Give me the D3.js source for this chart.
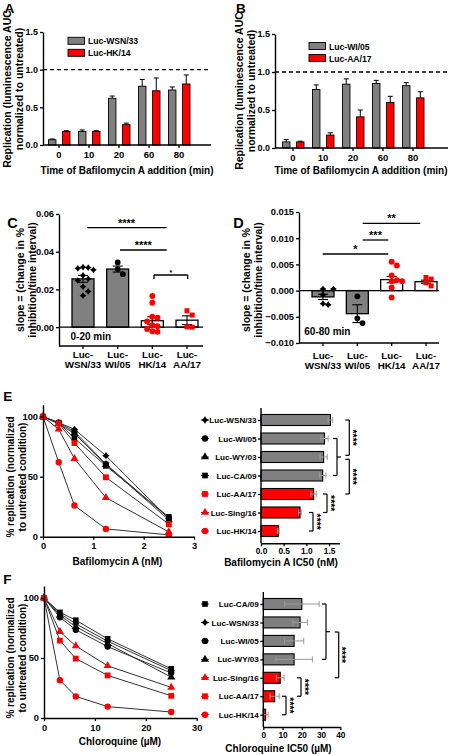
<!DOCTYPE html>
<html><head><meta charset="utf-8">
<script src="https://cdn.jsdelivr.net/npm/d3@7"></script>
<style>
body{margin:0;background:#fff}
text{font-family:Arial,"Liberation Sans",sans-serif;font-weight:bold;fill:#000}
</style>
</head><body><svg id="c" width="452" height="755" xmlns="http://www.w3.org/2000/svg"></svg>
<script>
// ---------------- DATA ----------------
const timeCats = ["0","10","20","60","80"];
const aWSN = [0.07,0.18,0.62,0.78,0.73];
const aWSNerr = [0.01,0.02,0.03,0.09,0.04];
const aHK = [0.18,0.18,0.27,0.72,0.81];
const aHKerr = [0.01,0.01,0.02,0.17,0.12];
const bWI = [0.08,0.77,0.84,0.85,0.82];
const bWIerr = [0.03,0.06,0.07,0.04,0.04];
const bAA = [0.08,0.17,0.41,0.60,0.66];
const bAAerr = [0.01,0.03,0.09,0.08,0.08];

const slopeCats = ["WSN/33","WI/05","HK/14","AA/17"];
const cMeans = [0.0256,0.0308,0.0034,0.0037];
const cErr = [0.0018,0.0016,0.0021,0.0023];
const cPts = [
  [0.0318,0.0316,0.0312,0.0304,0.0274,0.0256,0.0247,0.0215,0.0190,0.0167],
  [0.0343,0.0308,0.0281],
  [0.0165,0.0130,0.0055,0.0050,0.0030,0.0010,0.0005,-0.0010,-0.0022,-0.0025],
  [0.0087,0.0064,0.0002,0.0000]
];
const dMeans = [-0.0012,-0.0044,0.0021,0.0017];
const dErr = [0.0005,0.0017,0.0006,0.0003];
const dPts = [
  [0.0003,0.0003,-0.0008,-0.0025,-0.0027],
  [-0.0011,-0.0053,-0.0062],
  [0.0055,0.0048,0.0029,0.0020,0.0018,0.0018,0.0006,-0.0013],
  [0.0025,0.0022,0.0015,0.0009]
];

const bafDoses = [0,0.3125,0.625,1.25,2.5];
const eStrains = ["Luc-WSN/33","Luc-WI/05","Luc-WY/03","Luc-CA/09","Luc-AA/17","Luc-Sing/16","Luc-HK/14"];
const eCurves = [
  [100,95,89.5,67.5,15],
  [100,95,87.5,60.5,15.5],
  [100,94,86,60,14],
  [100,95,82,59,16.5],
  [100,94.5,78,49.5,10.5],
  [100,89.5,65,32.5,4],
  [100,62,26,6.5,1.5]
];
const eIC50 = [1.53,1.40,1.38,1.36,1.16,0.86,0.38];
const eIC50err = [0.05,0.08,0.08,0.07,0.06,0.03,0.02];

const cqDoses = [0,3.125,6.25,12.5,25];
const fStrains = ["Luc-CA/09","Luc-WSN/33","Luc-WI/05","Luc-WY/03","Luc-Sing/16","Luc-AA/17","Luc-HK/14"];
const fCurves = [
  [100,88,81.5,66,41],
  [100,87,78.5,64,39.5],
  [100,84,73.5,59.5,37.5],
  [100,85.5,76,62,34],
  [100,72,60,43.5,25.5],
  [100,64.5,49.5,35.5,18.5],
  [100,31.5,18,9.5,5]
];
const fIC50 = [20,19.1,16,16,8.8,5.9,1.2];
const fIC50err = [9,3.8,5,9.5,2,2.4,1.3];

// ---------------- HELPERS ----------------
const svg = d3.select("#c");
const GRAY = "#808080", RED = "#ff0000";
const star4 = {draw(ctx, size){const r=Math.sqrt(size)*0.72,k=r*0.42;
  ctx.moveTo(0,-r);ctx.lineTo(k,-k);ctx.lineTo(r,0);ctx.lineTo(k,k);ctx.lineTo(0,r);
  ctx.lineTo(-k,k);ctx.lineTo(-r,0);ctx.lineTo(-k,-k);ctx.closePath();}};
const shapeOf = {"Luc-WSN/33":star4,"Luc-WI/05":d3.symbolCircle,"Luc-WY/03":d3.symbolTriangle,
  "Luc-CA/09":d3.symbolSquare,"Luc-AA/17":d3.symbolSquare,"Luc-Sing/16":d3.symbolTriangle,"Luc-HK/14":d3.symbolCircle};
const colorOf = s => ["Luc-AA/17","Luc-Sing/16","Luc-HK/14"].includes(s) ? RED : "#000";
const sizeOf = {"Luc-WSN/33":26,"Luc-WI/05":32,"Luc-WY/03":28,"Luc-CA/09":32,"Luc-AA/17":34,"Luc-Sing/16":28,"Luc-HK/14":32};

function txt(x,y,s,size,anchor="start",g=svg){
  return g.append("text").attr("x",x).attr("y",y).attr("font-size",size).attr("text-anchor",anchor).text(s);
}
function vtitle(cx,cy,lines,size,gap){
  lines.forEach((l,i)=>{
    svg.append("text").attr("transform",`translate(${cx+i*gap},${cy}) rotate(-90)`)
      .attr("text-anchor","middle").attr("dominant-baseline","central").attr("font-size",size).text(l);
  });
}
function line(x1,y1,x2,y2,w=1.3,col="#000",dash=null){
  const l=svg.append("line").attr("x1",x1).attr("y1",y1).attr("x2",x2).attr("y2",y2)
    .attr("stroke",col).attr("stroke-width",w);
  if(dash) l.attr("stroke-dasharray",dash);
  return l;
}
function styleAxis(g,fs){
  g.selectAll("path.domain").attr("stroke","#000").attr("stroke-width",1.4);
  g.selectAll(".tick line").attr("stroke","#000").attr("stroke-width",1.3);
  g.selectAll(".tick text").attr("font-size",fs).attr("font-family","Arial,'Liberation Sans',sans-serif")
    .attr("font-weight","bold").attr("fill","#000");
}
function swarm(vals,y,cx,minD,step){
  const placed=[];const out=new Array(vals.length);
  const order=vals.map((v,i)=>i).sort((a,b)=>vals[b]-vals[a]);
  order.forEach(i=>{
    const py=y(vals[i]);
    for(let k=0;k<30;k++){
      const off=(k%2?1:-1)*Math.ceil(k/2)*step;
      const px=cx+off;
      if(placed.every(p=>Math.hypot(p[0]-px,p[1]-py)>=minD)){placed.push([px,py]);out[i]=[px,py];break;}
    }
  });
  return out;
}

// ---------------- PANEL A / B ----------------
function groupedPanel(o){
  const y=d3.scaleLinear().domain([0,1.5]).range([o.y0,o.y1]);
  const x=d3.scaleBand().domain(timeCats).range([o.xs,o.xs+150]);
  const sub=d3.scaleBand().domain([0,1]).range([-10.5,11]).paddingInner(0.47);
  const g=svg.append("g");
  [[o.s1,o.e1,GRAY],[o.s2,o.e2,RED]].forEach(([vals,errs,col],j)=>{
    timeCats.forEach((c,i)=>{
      const cx=x(c)+x.bandwidth()/2+sub(j);
      const mid=cx+sub.bandwidth()/2;
      line(mid,y(vals[i]),mid,y(vals[i]+errs[i]),1,"#000");
      line(mid-2.5,y(vals[i]+errs[i]),mid+2.5,y(vals[i]+errs[i]),1,"#000");
      g.append("rect").attr("x",cx).attr("y",y(vals[i])).attr("width",sub.bandwidth())
        .attr("height",y(0)-y(vals[i])).attr("fill",col).attr("stroke","#000").attr("stroke-width",0.9);
    });
  });
  line(o.ax,y(1),o.xend,y(1),1.3,"#000","4,3");
  const ya=svg.append("g").attr("transform",`translate(${o.ax},0)`)
    .call(d3.axisLeft(y).tickValues([0,0.5,1,1.5]).tickFormat(d3.format(".1f")).tickSize(3).tickPadding(2).tickSizeOuter(0));
  styleAxis(ya,9);
  const xa=svg.append("g").attr("transform",`translate(0,${y(0)})`)
    .call(d3.axisBottom(x).tickSize(3).tickSizeOuter(0));
  xa.select("path.domain").remove();
  styleAxis(xa,9.5);
  line(o.ax,y(0),o.xend,y(0),1.4);
  // legend
  [[o.n1,GRAY],[o.n2,RED]].forEach(([n,col],j)=>{
    svg.append("rect").attr("x",o.lx).attr("y",o.ly+j*12).attr("width",16.5).attr("height",7)
      .attr("fill",col).attr("stroke","#000").attr("stroke-width",0.9);
    txt(o.lx+20,o.ly+j*12+7,n,8.6);
  });
  txt(o.tx,o.ty,"Time of Bafilomycin A addition (min)",10,"middle");
  vtitle(o.vx,o.vy,["Replication (luminescence AUC","normalized to untreated)"],10.5,11.5);
  txt(o.px,12.7,o.label,13.5);
}
groupedPanel({y0:145,y1:32,xs:44,ax:43,xend:211,s1:aWSN,e1:aWSNerr,s2:aHK,e2:aHKerr,
  n1:"Luc-WSN/33",n2:"Luc-HK/14",lx:68,ly:37.3,tx:127,ty:173.5,vx:7,vy:89,px:4.5,label:"A"});
groupedPanel({y0:148,y1:34,xs:278,ax:275,xend:448,s1:bWI,e1:bWIerr,s2:bAA,e2:bAAerr,
  n1:"Luc-WI/05",n2:"Luc-AA/17",lx:309,ly:42.5,tx:361,ty:174,vx:239,vy:91,px:236,label:"B"});

// ---------------- PANEL C / D ----------------
const markC = [star4,d3.symbolCircle,d3.symbolCircle,d3.symbolSquare];
const colC = ["#000","#000",RED,RED];
const sizeC = [22,26,27,25];
function slopePanel(o){
  const y=d3.scaleLinear().domain(o.dom).range([o.yb,o.yt]);
  const x=d3.scalePoint().domain(slopeCats).range([o.c0,o.c1]);
  const bw=22;
  slopeCats.forEach((c,i)=>{
    const cx=x(c),m=o.means[i];
    svg.append("rect").attr("x",cx-bw/2).attr("y",Math.min(y(m),y(0))).attr("width",bw)
      .attr("height",Math.abs(y(m)-y(0))).attr("fill",i<2?GRAY:"#fff").attr("stroke","#000").attr("stroke-width",1.3);
  });
  line(o.ax,y(0),o.xend,y(0),1.4);
  slopeCats.forEach((c,i)=>{
    const cx=x(c),m=o.means[i],e=o.errs[i];
    line(cx,y(m-e),cx,y(m+e),1.1);
    line(cx-5,y(m+e),cx+5,y(m+e),1.1);
    line(cx-5,y(m-e),cx+5,y(m-e),1.1);
    const pos=swarm(o.pts[i],y,cx,5.2,5.2);
    svg.selectAll(null).data(pos).enter().append("path")
      .attr("transform",p=>`translate(${p[0]},${p[1]})`)
      .attr("d",d3.symbol().type(markC[i]).size(sizeC[i])).attr("fill",colC[i]);
  });
  const ya=svg.append("g").attr("transform",`translate(${o.ax},0)`)
    .call(d3.axisLeft(y).tickValues(o.ticks).tickFormat(d3.format(o.fmt)).tickSize(3).tickPadding(2).tickSizeOuter(0));
  styleAxis(ya,9.3);
  line(o.ax,o.yb,o.xend,o.yb,1.4);
  slopeCats.forEach(c=>{
    line(x(c),o.yb,x(c),o.yb+3,1.3);
    txt(x(c),o.lb1,"Luc-",9.8,"middle");
    txt(x(c),o.lb1+10,c,9.8,"middle");
  });
  txt(o.px,228.3,o.label,14.5);
  txt(o.notex,o.notey,o.note,10);
  vtitle(o.vx,o.vy,["slope = (change in %","inhibition/time interval)"],10.5,12.3);
  o.sig.forEach(s=>{
    line(s.x1,s.y,s.x2,s.y,1.3);
    if(s.br){line(s.x1,s.y,s.x1,s.y+4,1.3);line(s.x2,s.y,s.x2,s.y+4,1.3);}
    txt((s.x1+s.x2)/2+(s.dx||0),s.y+(s.ty||0),s.t,s.fs||11,"middle");
  });
}
slopePanel({dom:[-0.01,0.06],yb:346,yt:214,c0:83,c1:187,ax:59,xend:203,means:cMeans,errs:cErr,pts:cPts,
  ticks:[0,0.02,0.04,0.06],fmt:".2f",lb1:358.3,px:7.3,label:"C",note:"0-20 min",notex:70.5,notey:340,
  vx:19.5,vy:280,
  sig:[{x1:87.3,x2:166.7,y:227.7,t:"****",dx:-0.5,ty:-0.5},{x1:120,x2:166.7,y:250,t:"****",ty:-1.5},
       {x1:154,x2:187.7,y:275,t:"*",br:true,fs:7,ty:-0.5}]});
slopePanel({dom:[-0.010,0.015],yb:343,yt:212,c0:323,c1:426,ax:299,xend:439,means:dMeans,errs:dErr,pts:dPts,
  ticks:[-0.010,-0.005,0,0.005,0.010,0.015],fmt:".3f",lb1:359,px:233.3,label:"D",note:"60-80 min",notex:304.3,notey:335,
  vx:246,vy:280,
  sig:[{x1:362.7,x2:420.3,y:223.3,t:"**",ty:-1},{x1:362.7,x2:388.3,y:240,t:"***",ty:-1.5},
       {x1:322.7,x2:388.3,y:254,t:"*",ty:-1.5}]});

// ---------------- PANEL E / F (curves) ----------------
function curvePanel(o){
  const x=d3.scaleLinear().domain(o.xdom).range([o.x0,o.x1]);
  const y=d3.scaleLinear().domain([0,110]).range([o.y0,o.y0-132]);
  const ln=d3.line().x((d,i)=>x(o.doses[i])).y(d=>y(d));
  o.curves.forEach(c=>svg.append("path").attr("d",ln(c)).attr("fill","none").attr("stroke","#333").attr("stroke-width",1));
  o.curves.forEach((c,k)=>{
    const s=o.strains[k];
    svg.selectAll(null).data(c).enter().append("path")
      .attr("transform",(d,i)=>`translate(${x(o.doses[i])},${y(d)})`)
      .attr("d",d3.symbol().type(shapeOf[s]).size(sizeOf[s])).attr("fill",colorOf(s));
  });
  const ya=svg.append("g").attr("transform",`translate(${o.x0},0)`)
    .call(d3.axisLeft(y).tickValues([0,50,100]).tickSize(3).tickPadding(2).tickSizeOuter(0));
  styleAxis(ya,9.3);
  const xa=svg.append("g").attr("transform",`translate(0,${o.y0})`)
    .call(d3.axisBottom(x).tickValues(o.xticks).tickFormat(d3.format("d")).tickSize(3).tickSizeOuter(0));
  styleAxis(xa,9.3);
  txt(o.tcx,o.tby,o.title,10,"middle");
  vtitle(10,o.vy,["% replication (normalized","to untreated condition)"],10,12.7);
  txt(3.3,o.lby,o.label,13.5);
}
curvePanel({xdom:[0,3],x0:43,x1:194,y0:536.7,doses:bafDoses,curves:eCurves,strains:eStrains,xticks:[0,1,2,3],
  tcx:117.5,tby:565,title:"Bafilomycin A (nM)",vy:477,lby:400.7,label:"E"});
curvePanel({xdom:[0,30],x0:44,x1:196.7,y0:718,doses:cqDoses,curves:fCurves,strains:fStrains,xticks:[0,10,20,30],
  tcx:120,tby:745,title:"Chloroquine (\u00b5M)",vy:658,lby:584.3,label:"F"});

// ---------------- PANEL E / F (IC50 bars) ----------------
function icPanel(o){
  const x=d3.scaleLinear().domain(o.xdom).range([o.ax,o.xend]);
  const y=d3.scalePoint().domain(o.strains).range([o.yc0,o.yc1]);
  o.strains.forEach((s,i)=>{
    svg.append("rect").attr("x",x(0)).attr("y",y(s)-5.5).attr("width",x(o.vals[i])-x(0)).attr("height",11)
      .attr("fill",colorOf(s)===RED?RED:GRAY).attr("stroke","#000").attr("stroke-width",1.1);
    const lo=x(Math.max(0,o.vals[i]-o.errs[i])),hi=x(o.vals[i]+o.errs[i]);
    line(lo,y(s),hi,y(s),1,"#999");
    line(lo,y(s)-3,lo,y(s)+3,1,"#999");
    line(hi,y(s)-3,hi,y(s)+3,1,"#999");
    // legend marker for the curves
    line(201,y(s),209,y(s),1,"#333");
    svg.append("path").attr("transform",`translate(205,${y(s)})`)
      .attr("d",d3.symbol().type(shapeOf[s]).size(sizeOf[s])).attr("fill",colorOf(s));
  });
  const ya=svg.append("g").attr("transform",`translate(${o.ax},0)`)
    .call(d3.axisLeft(y).tickSize(3).tickPadding(1.5));
  ya.select("path.domain").remove();
  styleAxis(ya,8.1);
  line(o.ax,o.ytop,o.ax,o.ybot,1.4);
  const xa=svg.append("g").attr("transform",`translate(0,${o.ybot})`)
    .call(d3.axisBottom(x).tickValues(o.xticks).tickFormat(d3.format(o.fmt)).tickSize(3).tickPadding(2).tickSizeOuter(0));
  styleAxis(xa,8.3);
  txt(o.tcx,o.tby,o.title,10,"middle");
  o.brackets.forEach(b=>{
    const ya_=b.ya!==undefined?b.ya:y(b.a), yb_=b.yb!==undefined?b.yb:y(b.b);
    line(b.x,ya_,b.x,yb_,1.2);
    line(b.x-4,ya_,b.x,ya_,1.2);
    line(b.x-4,yb_,b.x,yb_,1.2);
    if(b.nub) line(b.x,(ya_+yb_)/2,b.x+4,(ya_+yb_)/2,1.2);
    if(b.t) svg.append("text").attr("transform",`translate(${b.x-0.5},${(ya_+yb_)/2})rotate(90)`)
      .attr("text-anchor","middle").attr("font-size",10.5).text(b.t);
  });
}
icPanel({xdom:[0,1.73],ax:261,xend:339.5,yc0:420,yc1:531,ytop:408,ybot:543.3,strains:eStrains,vals:eIC50,errs:eIC50err,
  xticks:[0,0.5,1,1.5],fmt:".1f",tcx:281,tby:566,title:"Bafilomycin A IC50 (nM)",
  brackets:[{x:337,a:"Luc-WI/05",b:"Luc-CA/09",nub:true},
            {x:349.3,a:"Luc-WSN/33",yb:455.3,t:"****"},
            {x:349.3,ya:459.3,b:"Luc-AA/17",t:"****"},
            {x:327,a:"Luc-AA/17",b:"Luc-Sing/16",t:"****"},
            {x:313,a:"Luc-Sing/16",b:"Luc-HK/14",t:"****"}]});
icPanel({xdom:[0,40],ax:263.3,xend:340.3,yc0:604,yc1:714.7,ytop:592,ybot:727,strains:fStrains,vals:fIC50,errs:fIC50err,
  xticks:[0,10,20,30,40],fmt:"d",tcx:278.5,tby:751.5,title:"Chloroquine IC50 (\u00b5M)",
  brackets:[{x:326,a:"Luc-CA/09",b:"Luc-WY/03",nub:true},
            {x:338.7,ya:632,b:"Luc-Sing/16",t:"****"},
            {x:301,a:"Luc-Sing/16",b:"Luc-AA/17",t:"****"},
            {x:286,a:"Luc-AA/17",b:"Luc-HK/14",t:"****"}]});
</script>
</body></html>
